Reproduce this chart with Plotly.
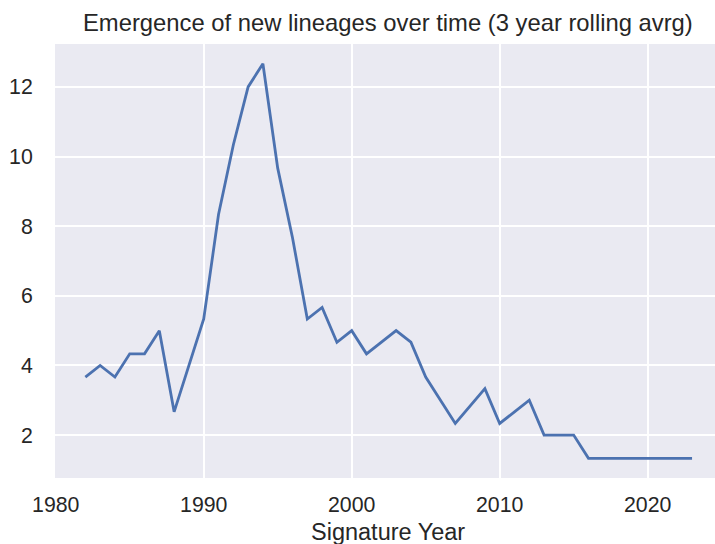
import plotly.graph_objects as go

years = [1982, 1983, 1984, 1985, 1986, 1987, 1988, 1989, 1990, 1991, 1992, 1993, 1994,
         1995, 1996, 1997, 1998, 1999, 2000, 2001, 2002, 2003, 2004, 2005, 2006, 2007,
         2009, 2010, 2011, 2012, 2013, 2014, 2015, 2016, 2017, 2018, 2019, 2020, 2021,
         2022, 2023]
rolling_avg = [11/3, 4.0, 11/3, 13/3, 13/3, 5.0, 8/3, 4.0, 16/3, 25/3, 31/3, 12.0, 38/3,
               29/3, 23/3, 16/3, 17/3, 14/3, 5.0, 13/3, 14/3, 5.0, 14/3, 11/3, 3.0, 7/3,
               10/3, 7/3, 8/3, 3.0, 2.0, 2.0, 2.0, 4/3, 4/3, 4/3, 4/3, 4/3, 4/3,
               4/3, 4/3]
x_ticks = [1980, 1990, 2000, 2010, 2020]
y_ticks = [2, 4, 6, 8, 10, 12]

title_text = "Emergence of new lineages over time (3 year rolling avrg)"
xlabel_text = "Signature Year"

FONT = "Arial, Liberation Sans, sans-serif"

fig = go.Figure(go.Scatter(
    x=years, y=rolling_avg, mode="lines",
    line=dict(color="#4C72B0", width=2.8),
    hoverinfo="skip",
))

fig.update_layout(
    width=715, height=544,
    margin=dict(l=55, r=0, t=44, b=66),
    paper_bgcolor="white",
    plot_bgcolor="#EAEAF2",
    showlegend=False,
    font=dict(family=FONT, color="#262626"),
    annotations=[
        dict(text=title_text, xref="paper", yref="paper", x=0.5053, y=1,
             xanchor="center", yanchor="bottom", yshift=6, showarrow=False,
             font=dict(size=23.8, family=FONT, color="#262626")),
        dict(text=xlabel_text, xref="paper", yref="paper", x=0.5053, y=0,
             xanchor="center", yanchor="top", yshift=-39, showarrow=False,
             font=dict(size=23.5, family=FONT, color="#262626")),
    ],
)

fig.update_xaxes(
    range=[1979.95, 2024.55], automargin=False,
    tickvals=x_ticks, ticktext=[str(v) for v in x_ticks],
    showgrid=True, gridcolor="white", gridwidth=1.8,
    zeroline=False, showline=False,
    ticks="outside", ticklen=7, tickcolor="rgba(0,0,0,0)",
    tickfont=dict(size=21.3, family=FONT, color="#262626"),
)
fig.update_yaxes(
    range=[0.767, 13.233], automargin=False,
    tickvals=y_ticks, ticktext=[str(v) for v in y_ticks],
    showgrid=True, gridcolor="white", gridwidth=1.8,
    zeroline=False, showline=False,
    ticks="outside", ticklen=17, tickcolor="rgba(0,0,0,0)",
    tickfont=dict(size=21.3, family=FONT, color="#262626"),
)

fig.write_html(
    "out.html",
    config={"displayModeBar": False},
    post_script="document.body.style.margin='0';document.documentElement.style.overflow='hidden';",
)
